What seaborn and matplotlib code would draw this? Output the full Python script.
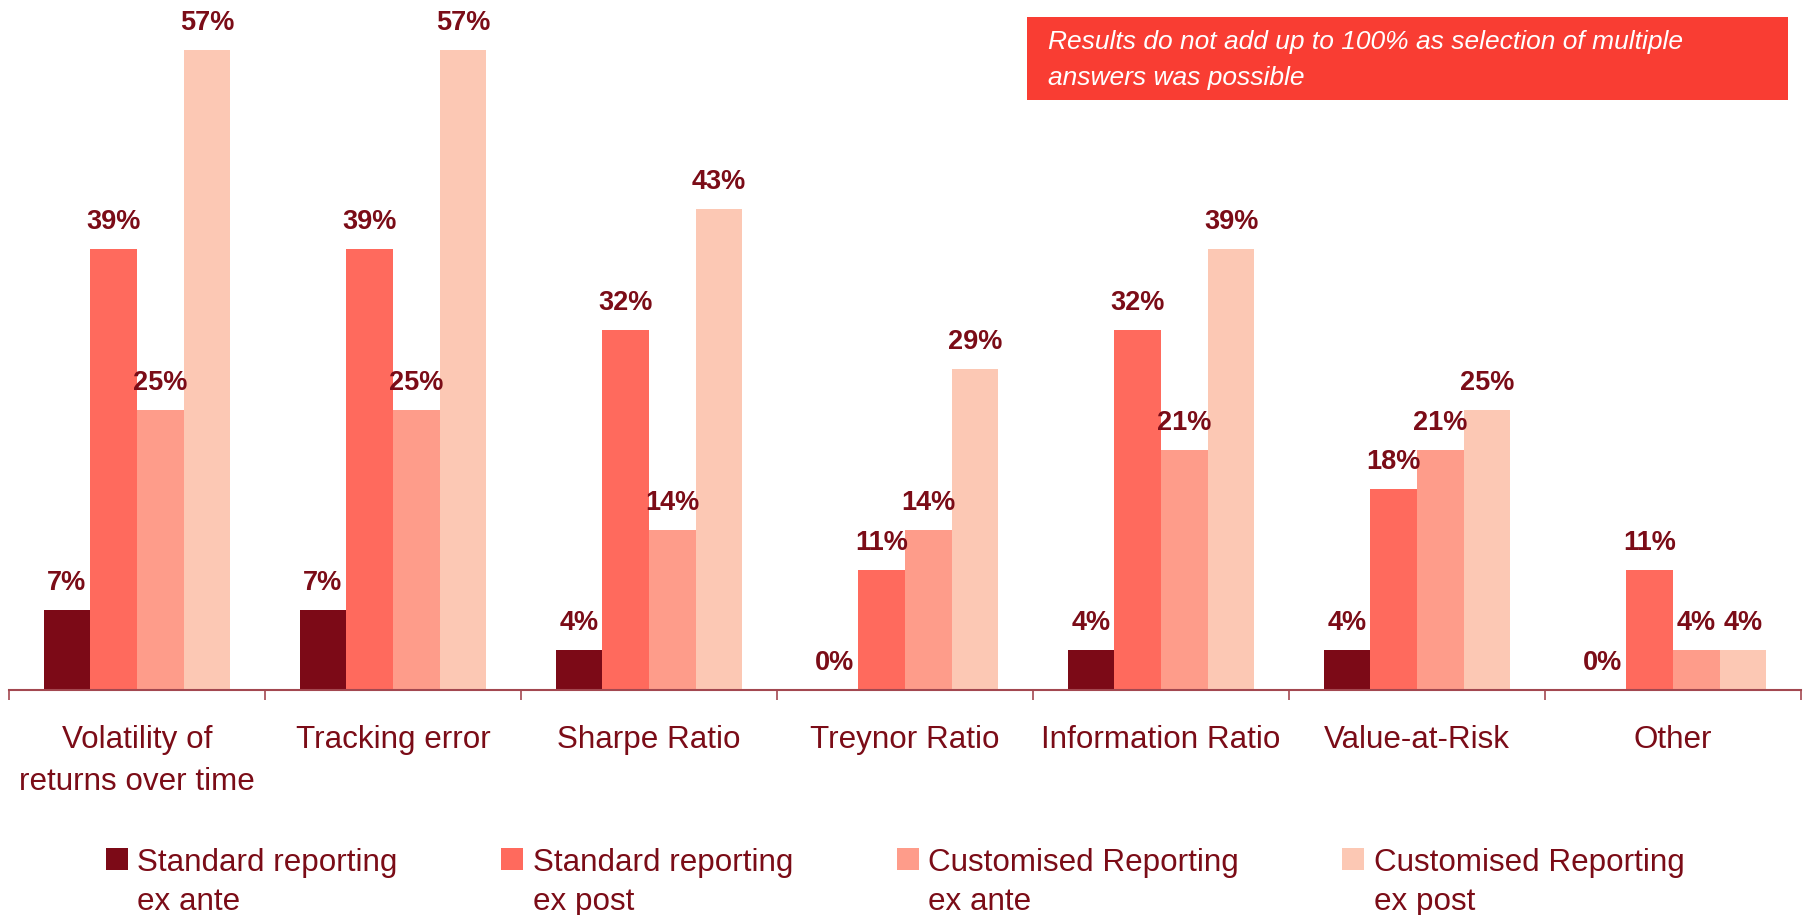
import matplotlib
matplotlib.use("Agg")
import matplotlib.pyplot as plt
from matplotlib.patches import Rectangle
import seaborn as sns
import pandas as pd
import numpy as np

# ---- data (percent) ----
categories = ["Volatility of\nreturns over time", "Tracking error", "Sharpe Ratio",
              "Treynor Ratio", "Information Ratio", "Value-at-Risk", "Other"]
series_names = ["Standard reporting\nex ante", "Standard reporting\nex post",
                "Customised Reporting\nex ante", "Customised Reporting\nex post"]
std_ex_ante = [7.1, 7.1, 3.6, 0.0, 3.6, 3.6, 0.0]
std_ex_post = [39.3, 39.3, 32.1, 10.7, 32.1, 17.9, 10.7]
cust_ex_ante = [25.0, 25.0, 14.3, 14.3, 21.4, 21.4, 3.6]
cust_ex_post = [57.1, 57.1, 42.9, 28.6, 39.3, 25.0, 3.6]
note_text = "Results do not add up to 100% as selection of multiple\nanswers was possible"

colors = ["#7C0A17", "#FF6A5D", "#FE9C8A", "#FCC8B4"]
maroon = "#7B0C17"

rows = []
for name, vals in zip(series_names, [std_ex_ante, std_ex_post, cust_ex_ante, cust_ex_post]):
    for c, v in zip(categories, vals):
        rows.append({"category": c, "series": name, "value": v})
df = pd.DataFrame(rows)

sns.set_theme(style="white")
plt.rcParams["font.family"] = ["Liberation Sans", "DejaVu Sans"]

W, H = 1808, 915
fig = plt.figure(figsize=(W / 100, H / 100), dpi=100)
ax = fig.add_axes([9 / W, 225 / H, 1792 / W, 673 / H])

sns.barplot(data=df, x="category", y="value", hue="series", order=categories,
            hue_order=series_names, palette=colors, width=0.73, saturation=1,
            linewidth=0, ax=ax)

for cont in ax.containers:
    labels = [f"{b.get_height():.0f}%" for b in cont]
    ax.bar_label(cont, labels=labels, padding=10, fontsize=19.5, fontweight="bold",
                 color=maroon)

ax.set_ylim(0, 60)
ax.set_xlim(-0.5, 6.5)
ax.set_xlabel("")
ax.set_ylabel("")
ax.set_yticks([])
for s in ["top", "left", "right"]:
    ax.spines[s].set_visible(False)
ax.spines["bottom"].set_color("#A34850")
ax.spines["bottom"].set_linewidth(1.5)

ax.set_xticks(np.arange(-0.5, 7.0, 1.0), minor=True)
ax.tick_params(axis="x", which="minor", bottom=True, length=7.5, width=1.2,
               color="#A34850", direction="out")
ax.tick_params(axis="x", which="major", bottom=False, length=0, pad=25.5,
               labelsize=22.6, labelcolor=maroon)
for t in ax.get_xticklabels():
    t.set_linespacing(1.5)

sns.move_legend(ax, "upper left", bbox_to_anchor=(106 / W, 1 - 848 / H),
                bbox_transform=fig.transFigure, ncol=4, frameon=False, title=None,
                fontsize=22.6, handlelength=0.7, handleheight=0.7, handletextpad=0.3,
                columnspacing=3.3, borderpad=0, borderaxespad=0)
leg = ax.get_legend()
for t in leg.get_texts():
    t.set_color(maroon)
    t.set_linespacing(1.38)
for col in leg._legend_handle_box.get_children():
    for row in col.get_children():
        row.align = "top"

fig.patches.append(Rectangle((1027 / W, 1 - 100 / H), 761 / W, 83 / H,
                             transform=fig.transFigure, facecolor="#F93D33",
                             edgecolor="none", zorder=0))
fig.text(1048 / W, 1 - 60 / H, note_text, color="white", fontsize=19,
         fontstyle="italic", va="center", ha="left", linespacing=1.65)

fig.savefig("out.png", dpi=100)
